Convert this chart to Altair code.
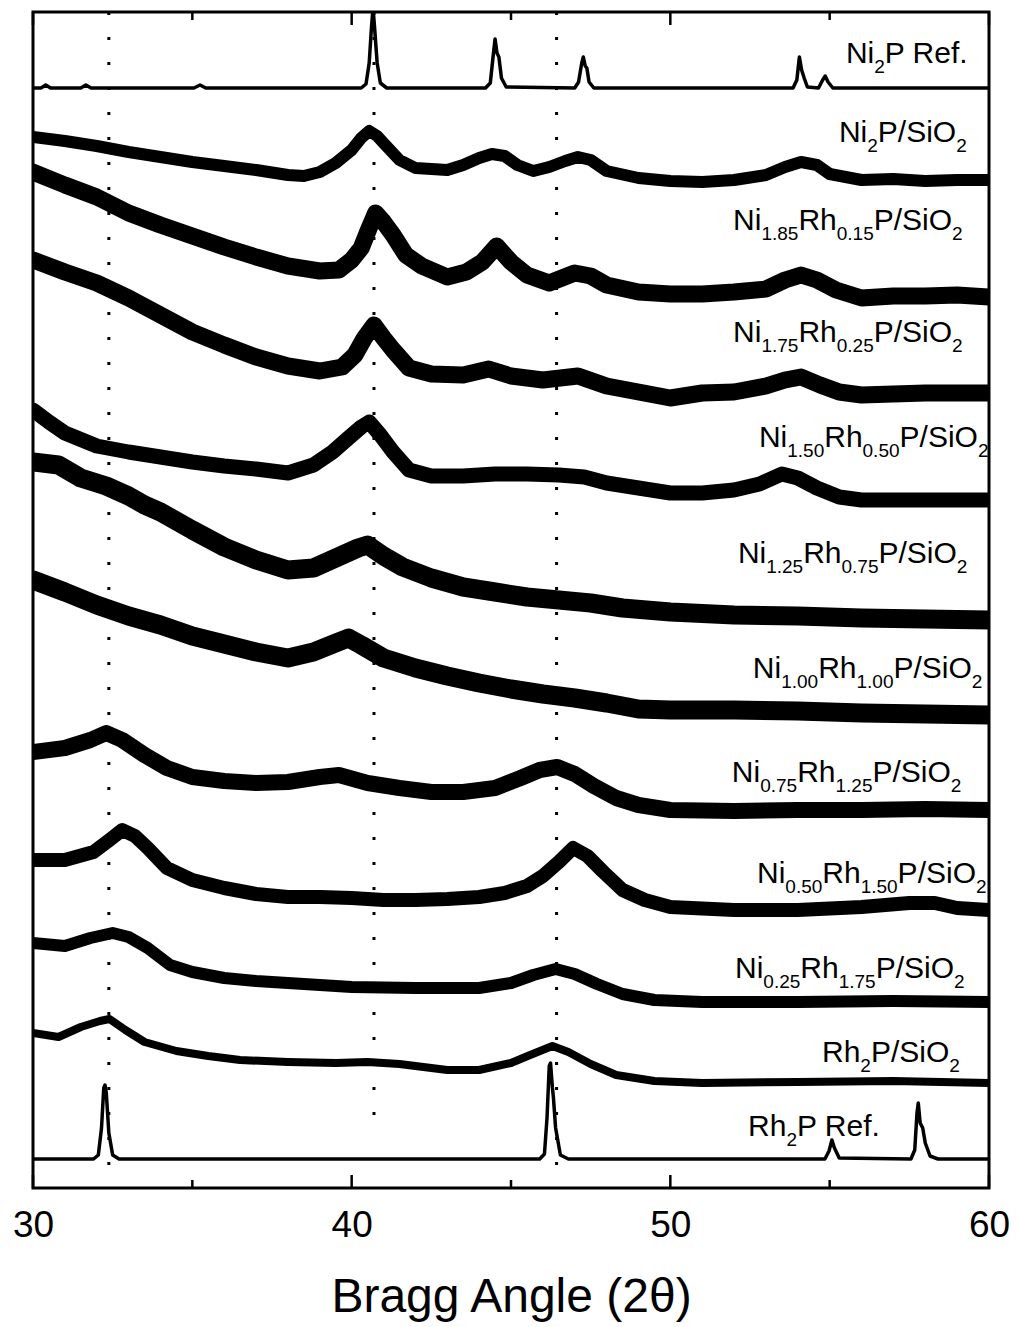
import altair as alt
import pandas as pd

# ---------------- data (2-theta in degrees, intensity in arbitrary offset units) -------------
ni2p_ref_x = [30.0, 30.25, 30.4, 30.55, 31.5, 31.66, 31.82, 35.05, 35.24, 35.42, 40.3, 40.45, 40.55,
              40.62, 40.67, 40.72, 40.8, 40.9, 41.1, 44.2, 44.35, 44.45, 44.5, 44.56, 44.62, 44.7,
              44.85, 47.0, 47.12, 47.22, 47.27, 47.33, 47.38, 47.45, 47.6, 53.85, 53.97, 54.05,
              54.12, 54.2, 54.3, 54.65, 54.78, 54.86, 54.95, 55.1, 60.0]
ni2p_ref_y = [1100, 1100, 1103, 1100, 1100, 1103, 1100, 1100, 1103, 1100, 1100, 1104, 1125,
              1160, 1180, 1160, 1125, 1105, 1100, 1100, 1105, 1135, 1149, 1135, 1131, 1110,
              1101, 1100, 1106, 1125, 1131, 1122, 1120, 1106, 1100, 1100, 1108, 1131,
              1118, 1110, 1101, 1100, 1108, 1112, 1106, 1100, 1100]

ni2p_x = [30, 31, 32, 33, 34, 35, 36, 37, 38, 38.5, 39, 39.5, 40, 40.3, 40.55, 40.8, 41, 41.5, 42,
          43, 43.5, 44, 44.4, 44.8, 45.2, 45.7, 46.2, 46.7, 47.1, 47.5, 48, 49, 50, 51, 52, 53,
          53.6, 54.1, 54.6, 55, 56, 57, 58, 59, 60]
ni2p_y = [1051, 1047, 1042, 1036, 1031, 1026, 1022, 1018, 1013, 1012, 1016, 1025, 1038, 1050, 1057,
          1052, 1045, 1028, 1020, 1018, 1023, 1030, 1034, 1032, 1023, 1017, 1021, 1027, 1031, 1028,
          1017, 1010, 1007, 1006, 1008, 1013, 1021, 1026, 1023, 1014, 1008, 1009, 1007, 1008, 1008]

r015_x = [30, 31, 32, 33, 34, 35, 36, 37, 38, 39, 39.6, 40, 40.3, 40.55, 40.75, 41, 41.3, 41.7, 42.2,
          43, 43.6, 44.1, 44.55, 45, 45.5, 46.2, 47, 47.5, 48, 49, 50, 51, 52, 53, 53.6, 54.1, 54.6,
          55.2, 56, 57, 58, 59, 60]
r015_y = [1016, 1003, 991, 975, 963, 952, 941, 931, 922, 917, 918, 928, 940, 960, 975, 966, 953, 933,
          922, 911, 916, 926, 942, 926, 913, 905, 915, 912, 903, 896, 894, 894, 896, 899, 908, 913,
          908, 898, 890, 892, 892, 893, 891]

r025_x = [30, 31, 32, 33, 34, 35, 36, 37, 38, 39, 39.7, 40.1, 40.4, 40.7, 41.0, 41.3, 41.8, 42.5, 43.5,
          44.3, 45, 46, 47.1, 48, 49, 50, 51, 52, 53, 53.6, 54.1, 54.7, 55.3, 56, 57, 58, 59, 60]
r025_y = [928, 916, 905, 890, 873, 856, 843, 831, 822, 817, 821, 833, 850, 863, 850, 838, 820, 814,
          813, 819, 812, 808, 812, 802, 796, 790, 795, 796, 802, 808, 811, 803, 796, 793, 794, 795,
          795, 795]

r050_x = [30, 30.5, 31, 32, 33, 34, 35, 36, 37, 38, 38.8, 39.4, 39.9, 40.3, 40.55, 40.9, 41.3, 41.8,
          42.5, 43.5, 44.5, 45.5, 46.5, 47.3, 48, 49, 50, 51, 52, 52.8, 53.5, 54, 54.6, 55.3, 56, 57,
          58, 59, 60]
r050_y = [778, 766, 755, 742, 736, 731, 726, 722, 719, 715, 723, 736, 750, 761, 766, 753, 736, 718,
          712, 712, 714, 714, 713, 711, 705, 700, 695, 695, 698, 704, 714, 710, 700, 691, 688, 688,
          688, 688, 688]

r075_x = [30, 30.8, 31.5, 32.3, 33, 33.5, 34, 35, 36, 37, 38, 38.8, 39.5, 40.2, 40.5, 41, 41.6, 42.5,
          43.5, 44.5, 45.5, 46.5, 47.5, 48.5, 50, 52, 54, 56, 58, 60]
r075_y = [726, 723, 710, 702, 692, 683, 676, 658, 641, 628, 618, 620, 630, 640, 643, 632, 621, 610,
          601, 596, 591, 588, 585, 580, 576, 573, 572, 570, 569, 568]

r100_x = [30, 31, 32, 33, 34, 35, 36, 37, 38, 38.8, 39.5, 39.9, 40.3, 41, 42, 43, 44, 45, 46, 47, 48,
          49, 50, 52, 54, 56, 58, 60]
r100_y = [608, 596, 583, 572, 563, 552, 544, 536, 530, 536, 545, 550, 543, 530, 520, 512, 505, 499,
          494, 490, 485, 479, 478, 478, 477, 475, 474, 473]

r125_x = [30, 31, 31.8, 32.3, 32.8, 33.5, 34.2, 35, 36, 37, 38, 39, 39.6, 40.5, 41.5, 42.5, 43.5, 44.5,
          45.3, 45.9, 46.45, 47, 47.6, 48.3, 49, 50, 52, 54, 56, 58, 60]
r125_y = [436, 440, 448, 455, 448, 433, 420, 411, 407, 405, 406, 411, 413, 405, 400, 396, 396, 400,
          410, 418, 421, 414, 402, 390, 383, 378, 377, 378, 378, 379, 378]

r150_x = [30, 31, 31.9, 32.4, 32.8, 33.2, 33.6, 34.2, 35, 36, 37, 38, 39, 40, 41, 42, 43, 44, 44.8,
          45.5, 46, 46.5, 46.95, 47.4, 47.9, 48.5, 49.2, 50, 52, 54, 56, 57.5, 58.3, 59, 60]
r150_y = [328, 328, 336, 348, 358, 352, 340, 320, 308, 300, 294, 291, 291, 290, 288, 288, 289, 291,
          295, 302, 312, 326, 340, 332, 316, 298, 288, 281, 278, 278, 281, 285, 285, 280, 278]

r175_x = [30, 31, 31.8, 32.5, 33, 33.6, 34.3, 35, 36, 37, 38, 40, 42, 44, 45, 45.7, 46.4, 47, 47.7,
          48.5, 49.5, 51, 54, 57, 60]
r175_y = [245, 242, 250, 255, 251, 240, 223, 216, 210, 207, 205, 201, 200, 200, 205, 213, 219, 214,
          204, 194, 188, 186, 186, 187, 186]

rh2p_x = [30, 30.8, 31.5, 32.1, 32.4, 32.9, 33.5, 34.5, 35.5, 36.5, 38, 39.5, 40.5, 41.5, 43, 44, 45,
          45.6, 46.3, 46.8, 47.5, 48.3, 49.5, 51, 54, 57, 60]
rh2p_y = [155, 151, 161, 167, 169, 158, 146, 137, 132, 128, 126, 125, 126, 124, 118, 118, 125, 133,
          142, 136, 124, 113, 107, 105, 106, 107, 105]

rh2p_ref_x = [30, 31.9, 32.05, 32.15, 32.22, 32.26, 32.3, 32.38, 32.5, 32.7, 45.9, 46.05, 46.13,
              46.2, 46.24, 46.3, 46.33, 46.4, 46.55, 46.8, 54.85, 54.98, 55.07, 55.15, 55.3, 57.55,
              57.67, 57.74, 57.78, 57.84, 57.92, 58.0, 58.15, 58.4, 60]
rh2p_ref_y = [29, 29, 33, 60, 100, 103, 95, 55, 33, 29, 29, 34, 70, 122, 125, 100, 91, 60, 33, 29,
              29, 37, 48, 40, 30, 29, 38, 75, 85, 65, 60, 45, 32, 29, 29]

series_names = ["Ni2P Ref.", "Ni2P/SiO2", "Ni1.85Rh0.15P/SiO2", "Ni1.75Rh0.25P/SiO2",
                "Ni1.50Rh0.50P/SiO2", "Ni1.25Rh0.75P/SiO2", "Ni1.00Rh1.00P/SiO2",
                "Ni0.75Rh1.25P/SiO2", "Ni0.50Rh1.50P/SiO2", "Ni0.25Rh1.75P/SiO2",
                "Rh2P/SiO2", "Rh2P Ref."]
series_x = [ni2p_ref_x, ni2p_x, r015_x, r025_x, r050_x, r075_x, r100_x, r125_x, r150_x, r175_x,
            rh2p_x, rh2p_ref_x]
series_y = [ni2p_ref_y, ni2p_y, r015_y, r025_y, r050_y, r075_y, r100_y, r125_y, r150_y, r175_y,
            rh2p_y, rh2p_ref_y]

# label text pieces: (text, is_subscript)
label_parts = [
    [("Ni", 0), ("2", 1), ("P Ref.", 0)],
    [("Ni", 0), ("2", 1), ("P/SiO", 0), ("2", 1)],
    [("Ni", 0), ("1.85", 1), ("Rh", 0), ("0.15", 1), ("P/SiO", 0), ("2", 1)],
    [("Ni", 0), ("1.75", 1), ("Rh", 0), ("0.25", 1), ("P/SiO", 0), ("2", 1)],
    [("Ni", 0), ("1.50", 1), ("Rh", 0), ("0.50", 1), ("P/SiO", 0), ("2", 1)],
    [("Ni", 0), ("1.25", 1), ("Rh", 0), ("0.75", 1), ("P/SiO", 0), ("2", 1)],
    [("Ni", 0), ("1.00", 1), ("Rh", 0), ("1.00", 1), ("P/SiO", 0), ("2", 1)],
    [("Ni", 0), ("0.75", 1), ("Rh", 0), ("1.25", 1), ("P/SiO", 0), ("2", 1)],
    [("Ni", 0), ("0.50", 1), ("Rh", 0), ("1.50", 1), ("P/SiO", 0), ("2", 1)],
    [("Ni", 0), ("0.25", 1), ("Rh", 0), ("1.75", 1), ("P/SiO", 0), ("2", 1)],
    [("Rh", 0), ("2", 1), ("P/SiO", 0), ("2", 1)],
    [("Rh", 0), ("2", 1), ("P Ref.", 0)],
]
label_x = [55.51, 55.29, 51.97, 51.97, 52.78, 52.12, 52.59, 51.93, 52.72, 52.03, 54.76, 52.44]
label_y = [1125, 1046, 958, 846, 741, 625, 510, 406, 305, 210, 126, 52]

ref_lines_x = [32.38, 40.70, 46.43]
ref_lines_top = [1176, 1176, 1176]
ref_lines_bottom = [0, 73, 0]

tick_values = [30, 35, 40, 45, 50, 55, 60]
tick_major = [True, False, True, False, True, False, True]
x_labels = [30, 40, 50, 60]

# ---------------- styling / layout -------------
W, H = 956, 1176
FONT = "Liberation Sans"
line_widths = [3.5, 12, 17, 17, 15, 19, 19, 16, 14, 12, 8, 3.5]
MAIN_FS, SUB_FS, SUB_DROP = 30, 19, 10
PX_PER_DEG = W / 30.0
CHAR_W = {"N": 0.722, "i": 0.222, "R": 0.722, "h": 0.556, "P": 0.667, " ": 0.278, "e": 0.556,
          "f": 0.278, ".": 0.278, "/": 0.278, "S": 0.667, "O": 0.778}


def text_width(s, fs):
    return sum(CHAR_W.get(c, 0.556) for c in s) * fs


xscale = alt.Scale(domain=[30, 60], nice=False, zero=False)
yscale = alt.Scale(domain=[0, H], nice=False, zero=False)

xaxis = alt.Axis(values=x_labels, ticks=False, domain=False, grid=False, labelFontSize=37,
                 labelFont=FONT, labelColor="black", labelPadding=19, labelFlush=False,
                 title="Bragg Angle (2θ)", titleFont=FONT, titleFontSize=48,
                 titleFontWeight="normal", titleColor="black", titlePadding=30)

layers = []

# dotted guide lines
ref_df = pd.DataFrame({"angle": ref_lines_x, "top": ref_lines_top, "bottom": ref_lines_bottom})
layers.append(alt.Chart(ref_df).mark_rule(color="black", strokeWidth=3, strokeDash=[3, 22]).encode(
    x=alt.X("angle:Q", scale=xscale, axis=xaxis),
    y=alt.Y("top:Q", scale=yscale, axis=None),
    y2="bottom:Q",
))

# patterns
for name, xs, ys, sw in zip(series_names, series_x, series_y, line_widths):
    df = pd.DataFrame({"angle": xs, "intensity": ys})
    layers.append(alt.Chart(df).mark_line(color="black", strokeWidth=sw, strokeJoin="round",
                                          strokeCap="round", clip=True).encode(
        x=alt.X("angle:Q", scale=xscale, axis=xaxis),
        y=alt.Y("intensity:Q", scale=yscale, axis=None),
    ))

# inward ticks (top and bottom)
t_ang, t_y1, t_y2 = [], [], []
for tv, major in zip(tick_values, tick_major):
    ln = 13 if major else 8
    t_ang += [tv, tv]
    t_y1 += [0, H]
    t_y2 += [ln, H - ln]
tick_df = pd.DataFrame({"angle": t_ang, "y1": t_y1, "y2": t_y2})
layers.append(alt.Chart(tick_df).mark_rule(color="black", strokeWidth=2.5).encode(
    x=alt.X("angle:Q", scale=xscale, axis=xaxis),
    y=alt.Y("y1:Q", scale=yscale, axis=None),
    y2="y2:Q",
))

# labels with subscripts
main_rows, sub_rows = [], []
for parts, lx, ly in zip(label_parts, label_x, label_y):
    off = 0.0
    for txt, sub in parts:
        fs = SUB_FS if sub else MAIN_FS
        row = {"angle": lx + off / PX_PER_DEG, "intensity": ly - (SUB_DROP if sub else 0), "t": txt}
        (sub_rows if sub else main_rows).append(row)
        off += text_width(txt, fs)

for rows, fs in ((main_rows, MAIN_FS), (sub_rows, SUB_FS)):
    layers.append(alt.Chart(pd.DataFrame(rows)).mark_text(
        align="left", baseline="alphabetic", font=FONT, fontSize=fs, color="black", clip=True
    ).encode(
        x=alt.X("angle:Q", scale=xscale, axis=xaxis),
        y=alt.Y("intensity:Q", scale=yscale, axis=None),
        text="t:N",
    ))

chart = alt.layer(*layers).properties(
    width=W, height=H,
    autosize=alt.AutoSizeParams(type="none"),
    padding={"left": 25, "top": 4, "right": 20, "bottom": 140},
).configure_view(stroke="black", strokeWidth=3)

chart.save("out.html", embed_options={"renderer": "svg", "actions": False})
